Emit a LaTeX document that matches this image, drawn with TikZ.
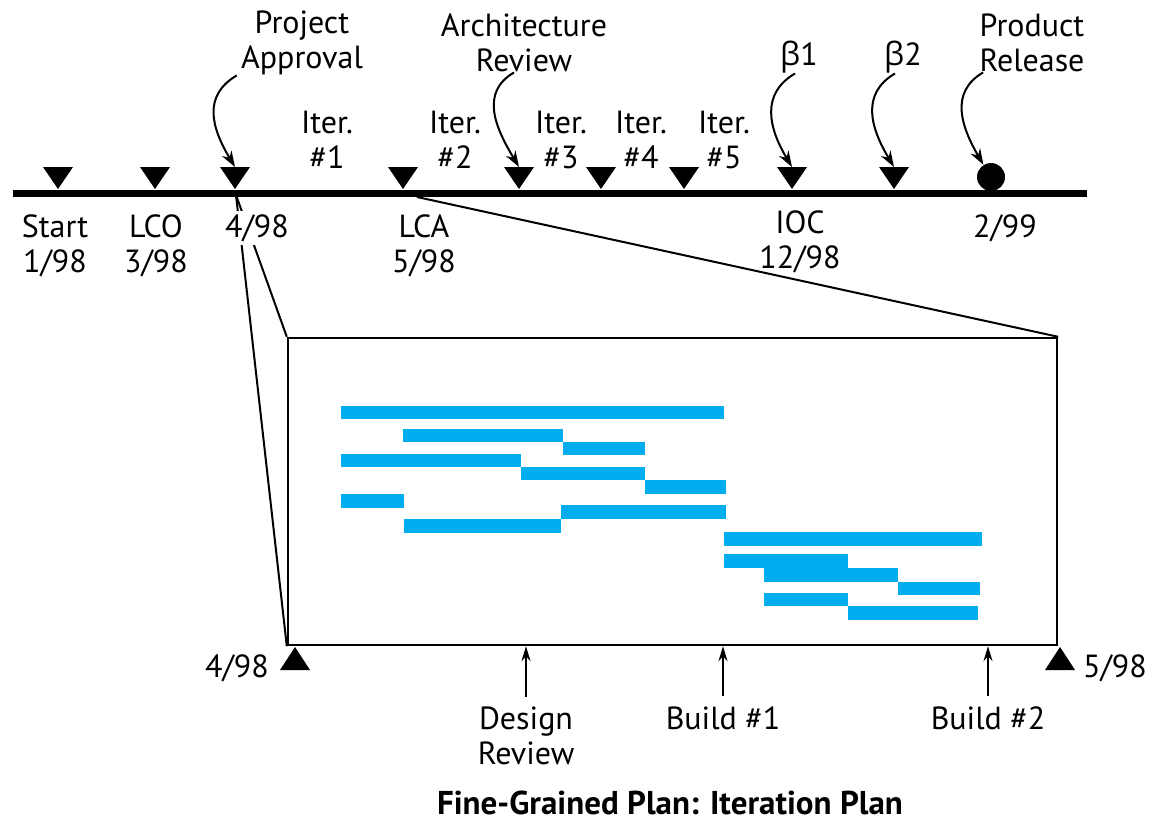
\documentclass[tikz,border=0pt]{standalone}
\usepackage{fontspec}
\setmainfont{PT Sans}
\newfontfamily\greekfont{Open Sans}
\usepackage{xcolor}
\usepackage{tikz}
\usetikzlibrary{arrows.meta, positioning, calc}
\definecolor{ganttblue}{HTML}{00AEEF}

\begin{document}
\begin{tikzpicture}[x=0.5pt, y=-0.5pt,
    lbl/.style={font=\fontsize{16}{17.5}\selectfont, align=center, inner sep=0pt},
    curv/.style={line width=1pt, -{Stealth[length=8pt, width=5.5pt]}},
    uparr/.style={line width=1pt, -{Stealth[length=7.5pt, width=4.5pt]}},
    bar/.style={fill=ganttblue}]
  \useasboundingbox (0,0) rectangle (1155,824);

  % coarse plan: the time line
  \coordinate (tlL) at (13,193);
  \coordinate (tlR) at (1087,193);
  \draw[line width=3.5pt] (tlL) -- (tlR);

  \coordinate (mStart) at (58,167);
  \coordinate (mLCO) at (155,167);
  \coordinate (mPA) at (235,167);
  \coordinate (mLCA) at (403,167);
  \coordinate (mAR) at (519,167);
  \coordinate (mIt4) at (601,167);
  \coordinate (mIt5) at (684,167);
  \coordinate (mB1) at (792,167);
  \coordinate (mB2) at (894,167);
  \fill (mStart) -- ++(15,0) -- ++(-15,22) -- ++(-15,-22) -- cycle;
  \fill (mLCO) -- ++(15,0) -- ++(-15,22) -- ++(-15,-22) -- cycle;
  \fill (mPA) -- ++(15,0) -- ++(-15,22) -- ++(-15,-22) -- cycle;
  \fill (mLCA) -- ++(15,0) -- ++(-15,22) -- ++(-15,-22) -- cycle;
  \fill (mAR) -- ++(15,0) -- ++(-15,22) -- ++(-15,-22) -- cycle;
  \fill (mIt4) -- ++(15,0) -- ++(-15,22) -- ++(-15,-22) -- cycle;
  \fill (mIt5) -- ++(15,0) -- ++(-15,22) -- ++(-15,-22) -- cycle;
  \fill (mB1) -- ++(15,0) -- ++(-15,22) -- ++(-15,-22) -- cycle;
  \fill (mB2) -- ++(15,0) -- ++(-15,22) -- ++(-15,-22) -- cycle;
  \node[circle, fill, minimum size=14pt, inner sep=0pt] (mPR) at (991,177) {};

  % zoom box
  \node[draw, line width=1.2pt, minimum width=384.5pt, minimum height=153.5pt, inner sep=0pt] (zbox) at (672.5,491.5) {};
  \coordinate (paFoot) at (236,195);
  \coordinate (lcaFoot) at (417,197);
  \draw[line width=1pt] (paFoot) -- (zbox.north west);
  \draw[line width=1pt] (paFoot) -- (zbox.south west);
  \draw[line width=1pt] (lcaFoot) -- (zbox.north east);

  % labels above and below the time line
  \node[lbl] (lblPA) at (302,43) {Project\\Approval};
  \node[lbl] (lblAR) at (524,43) {Architecture\\Review};
  \node[lbl] (lblB1) at (799,57) {{\greekfont β}1};
  \node[lbl] (lblB2) at (903,57) {{\greekfont β}2};
  \node[lbl] (lblPR) at (1032,43) {Product\\Release};
  \node[lbl] (it1) at (327,140) {Iter.\\\#1};
  \node[lbl] (it2) at (455,140) {Iter.\\\#2};
  \node[lbl] (it3) at (561,140) {Iter.\\\#3};
  \node[lbl] (it4) at (641,140) {Iter.\\\#4};
  \node[lbl] (it5) at (724,140) {Iter.\\\#5};
  \node[lbl] (lblStart) at (55,246) {Start\\1/98};
  \node[lbl] (lblLCO) at (156,246) {LCO\\3/98};
  \node[lbl, fill=white, inner sep=1.5pt] (lblApr) at (257,228) {4/98};
  \node[lbl] (lblLCA) at (424,246) {LCA\\5/98};
  \node[lbl] (lblIOC) at (800,242) {IOC\\12/98};
  \node[lbl] (lblRel) at (1005,228) {2/99};

  \draw[curv] ([xshift=-2pt]lblPA.south west) .. controls +(-34,20) and +(-24,-40) .. (mPA);
  \draw[curv] ([xshift=-5pt]lblAR.south) .. controls +(-34,20) and +(-24,-40) .. (mAR);
  \draw[curv] ([xshift=-2pt]lblB1.south) .. controls +(-34,20) and +(-24,-40) .. (mB1);
  \draw[curv] ([xshift=-4pt]lblB2.south) .. controls +(-34,20) and +(-24,-40) .. (mB2);
  \draw[curv] ([xshift=2pt]lblPR.south west) .. controls +(-34,20) and +(-22,-38) .. (mPR.122);

  % fine-grained plan
  \fill[bar] (341,406) rectangle (724,419);
  \fill[bar] (403,429) rectangle (563,442);
  \fill[bar] (563,442) rectangle (645,455);
  \fill[bar] (341,454) rectangle (521,467);
  \fill[bar] (521,467) rectangle (645,480);
  \fill[bar] (645,480) rectangle (726,494);
  \fill[bar] (341,494) rectangle (404,508);
  \fill[bar] (561,505) rectangle (726,519);
  \fill[bar] (404,519) rectangle (561,533);
  \fill[bar] (724,532) rectangle (982,546);
  \fill[bar] (724,554) rectangle (848,568);
  \fill[bar] (764,568) rectangle (898,582);
  \fill[bar] (898,582) rectangle (980,595);
  \fill[bar] (764,593) rectangle (848,606);
  \fill[bar] (848,606) rectangle (978,620);

  \coordinate (mBoxL) at (295,647);
  \coordinate (mBoxR) at (1060,647);
  \fill (mBoxL) -- ++(15,23) -- ++(-30,0) -- cycle;
  \fill (mBoxR) -- ++(15,23) -- ++(-30,0) -- cycle;
  \node[lbl] (lblBoxL) at (237,668) {4/98};
  \node[lbl] (lblBoxR) at (1115,668) {5/98};

  \node[lbl] (lblDR) at (526,736) {Design\\Review};
  \node[lbl] (lblBd1) at (723,718) {Build \#1};
  \node[lbl] (lblBd2) at (988,718) {Build \#2};
  \draw[uparr, shorten <=5pt] (lblDR.north) -- (lblDR.north |- zbox.south);
  \draw[uparr, shorten <=5pt] (lblBd1.north) -- (lblBd1.north |- zbox.south);
  \draw[uparr, shorten <=5pt] (lblBd2.north) -- (lblBd2.north |- zbox.south);

  \node[lbl, font=\fontsize{16.5}{17.5}\selectfont\bfseries] (title) at (670,803) {Fine-Grained Plan: Iteration Plan};
\end{tikzpicture}
\end{document}
